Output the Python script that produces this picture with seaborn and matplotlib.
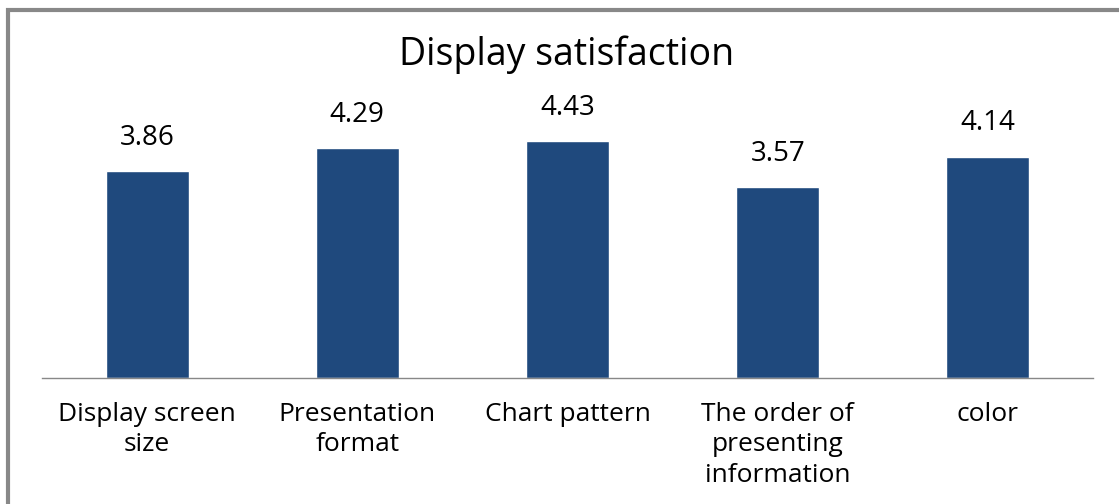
import matplotlib
matplotlib.use("Agg")
import matplotlib.pyplot as plt
import seaborn as sns
import pandas as pd
from matplotlib.patches import Rectangle

categories = ["Display screen\nsize", "Presentation\nformat", "Chart pattern",
              "The order of\npresenting\ninformation", "color"]
values = [3.86, 4.29, 4.43, 3.57, 4.14]
title = "Display satisfaction"

sns.set_theme(style="white")
plt.rcParams['font.family'] = ['Open Sans', 'DejaVu Sans']

df = pd.DataFrame({"cat": categories, "val": values})

fig = plt.figure(figsize=(11.19, 5.04), dpi=100)
ax = fig.add_axes([42/1119, 1-378/504, (1093-42)/1119, 267.5/504])
sns.barplot(data=df, x="cat", y="val", color="#1F497D", width=0.395,
            saturation=1, ax=ax)
ax.set_ylim(0, 5)
ax.set_xlim(-0.5, len(categories)-0.5)
for i, v in enumerate(values):
    ax.annotate(f"{v:.2f}", (i, v), xytext=(0, 14), textcoords="offset points",
                ha="center", va="bottom", fontsize=20, color="black", annotation_clip=False)
for s in ["top", "right", "left"]:
    ax.spines[s].set_visible(False)
ax.spines["bottom"].set_color("#888888")
ax.spines["bottom"].set_linewidth(1.0)
ax.set_yticks([])
ax.set_xlabel("")
ax.set_ylabel("")
ax.tick_params(axis="x", length=0, pad=17, labelsize=19, colors="black")
for lbl in ax.get_xticklabels():
    lbl.set_linespacing(1.3)
fig.text(567/1119, 1-55/504, title, ha="center", va="center", fontsize=27, color="black")
fig.patches.append(Rectangle((8/1119, -0.1), 1.2, 1-10/504+0.1, transform=fig.transFigure,
                             fill=False, edgecolor="#888888", linewidth=3, zorder=10))
fig.savefig("out.png", dpi=100)
